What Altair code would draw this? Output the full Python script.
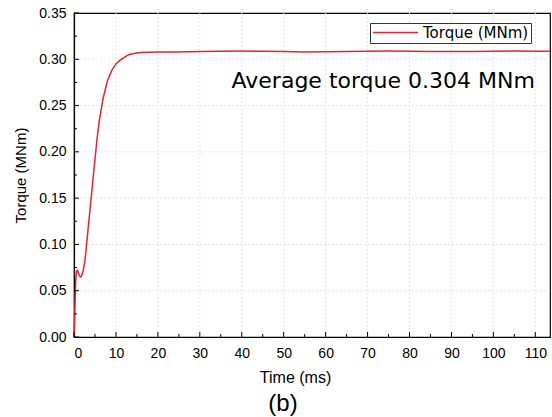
import altair as alt
import pandas as pd

# ---- data ----
time_ms = [0, 0.2, 0.4, 0.6, 0.8, 1.0, 1.3, 1.6, 1.9, 2.2, 2.6, 3.0, 3.5, 4.0, 4.5,
           5.0, 5.5, 6.0, 7.0, 8.0, 9.0, 10.0, 11.0, 12.0, 13.0, 14.0, 15.0, 16.0,
           18.0, 20.0, 25.0, 30.0, 35.0, 40.0, 45.0, 50.0, 55.0, 60.0, 65.0, 70.0,
           75.0, 80.0, 85.0, 90.0, 95.0, 100.0, 105.0, 110.0, 113.5]
torque = [0.0, 0.030, 0.060, 0.071, 0.072, 0.070, 0.066, 0.065, 0.067, 0.072, 0.082,
          0.100, 0.123, 0.146, 0.169, 0.192, 0.214, 0.233, 0.259, 0.277, 0.288, 0.295,
          0.299, 0.302, 0.305, 0.306, 0.3068, 0.3073, 0.3077, 0.3078, 0.3080, 0.3083,
          0.3088, 0.3089, 0.3087, 0.3084, 0.3080, 0.3082, 0.3085, 0.3088, 0.3089,
          0.3088, 0.3085, 0.3083, 0.3085, 0.3087, 0.3089, 0.3088, 0.3087]
series_name = "Torque (MNm)"

x_major = [0, 10, 20, 30, 40, 50, 60, 70, 80, 90, 100, 110]
x_minor = [5, 15, 25, 35, 45, 55, 65, 75, 85, 95, 105]
y_major = [0.0, 0.05, 0.10, 0.15, 0.20, 0.25, 0.30, 0.35]
y_minor = [0.025, 0.075, 0.125, 0.175, 0.225, 0.275, 0.325]

annotation_text = "Average torque 0.304 MNm"
annotation_x = 109.9
annotation_y = 0.269

X_DOMAIN = [0, 113.5]
Y_DOMAIN = [0, 0.35]
W, H = 476, 324
RED = "#e8232b"
GRID = "#e4e4e4"

df = pd.DataFrame({"t": time_ms, "v": torque, "s": series_name})
xs = alt.Scale(domain=X_DOMAIN, nice=False, zero=False)
ys = alt.Scale(domain=Y_DOMAIN, nice=False)

line = alt.Chart(df).mark_line(strokeWidth=1.5).encode(
    x=alt.X("t:Q", scale=xs, title="Time (ms)",
            axis=alt.Axis(values=x_major, format="d", tickSize=0, labelPadding=9,
                          labelFontSize=14, titleFontSize=16, titlePadding=9,
                          grid=False, titleX=221)),
    y=alt.Y("v:Q", scale=ys, title="Torque (MNm)",
            axis=alt.Axis(values=y_major, format=".2f", tickSize=0, labelPadding=8,
                          labelFontSize=14, titleFontSize=15, titlePadding=10,
                          grid=False)),
    color=alt.Color("s:N", scale=alt.Scale(domain=[series_name], range=[RED]),
                    legend=alt.Legend(title=None, orient="none", legendX=296, legendY=10,
                                      strokeColor="#333333", fillColor="white", padding=2,
                                      symbolType="stroke", symbolSize=2025, clipHeight=15,
                                      symbolStrokeWidth=1.3, labelFont="DejaVu Sans",
                                      labelFontSize=15, labelColor="black",
                                      labelOffset=4, cornerRadius=0)),
)

def xgrid(vals):
    d = pd.DataFrame({"t": vals})
    return alt.Chart(d).mark_rule(color=GRID, strokeWidth=1, strokeDash=[2, 2]).encode(
        x=alt.X("t:Q", scale=xs, axis=None))

def ygrid(vals):
    d = pd.DataFrame({"v": vals})
    return alt.Chart(d).mark_rule(color=GRID, strokeWidth=1, strokeDash=[2, 2]).encode(
        y=alt.Y("v:Q", scale=ys, axis=None))

def xticks(vals, length):
    d = pd.DataFrame({"t": vals})
    return alt.Chart(d).mark_rule(color="black", strokeWidth=1).encode(
        x=alt.X("t:Q", scale=xs, axis=None),
        y=alt.value(H), y2=alt.value(H - length))

def yticks(vals, length):
    d = pd.DataFrame({"v": vals})
    return alt.Chart(d).mark_rule(color="black", strokeWidth=1).encode(
        y=alt.Y("v:Q", scale=ys, axis=None),
        x=alt.value(0), x2=alt.value(length))

ann_df = pd.DataFrame({"t": [annotation_x], "v": [annotation_y], "label": [annotation_text]})
ann = alt.Chart(ann_df).mark_text(align="right", baseline="alphabetic", font="DejaVu Sans",
                                  fontSize=22, color="black").encode(
    x=alt.X("t:Q", scale=xs, axis=None),
    y=alt.Y("v:Q", scale=ys, axis=None),
    text="label:N")

chart = alt.layer(
    xgrid(x_major[1:]), ygrid(y_major[1:-1]),
    line, xticks(x_major, 5), xticks(x_minor, 3), yticks(y_major, 5), yticks(y_minor, 3), ann
).resolve_axis(x="independent", y="independent").properties(
    width=W, height=H,
    title=alt.TitleParams("(b)", orient="bottom", fontSize=24, fontWeight="normal",
                          font="Liberation Sans", anchor="middle", dx=-29, offset=7),
    autosize=alt.AutoSizeParams(type="none"),
    padding={"left": 74, "top": 13, "right": 2, "bottom": 80},
).configure(font="Liberation Sans").configure_axis(
    labelFont="Liberation Sans", titleFont="Liberation Sans", labelColor="black",
    titleColor="black", titleFontWeight="normal", domainColor="black", domainWidth=1.2,
).configure_view(stroke="black", strokeWidth=1.2)

chart.save("out.html", embed_options={"renderer": "svg", "actions": False})
